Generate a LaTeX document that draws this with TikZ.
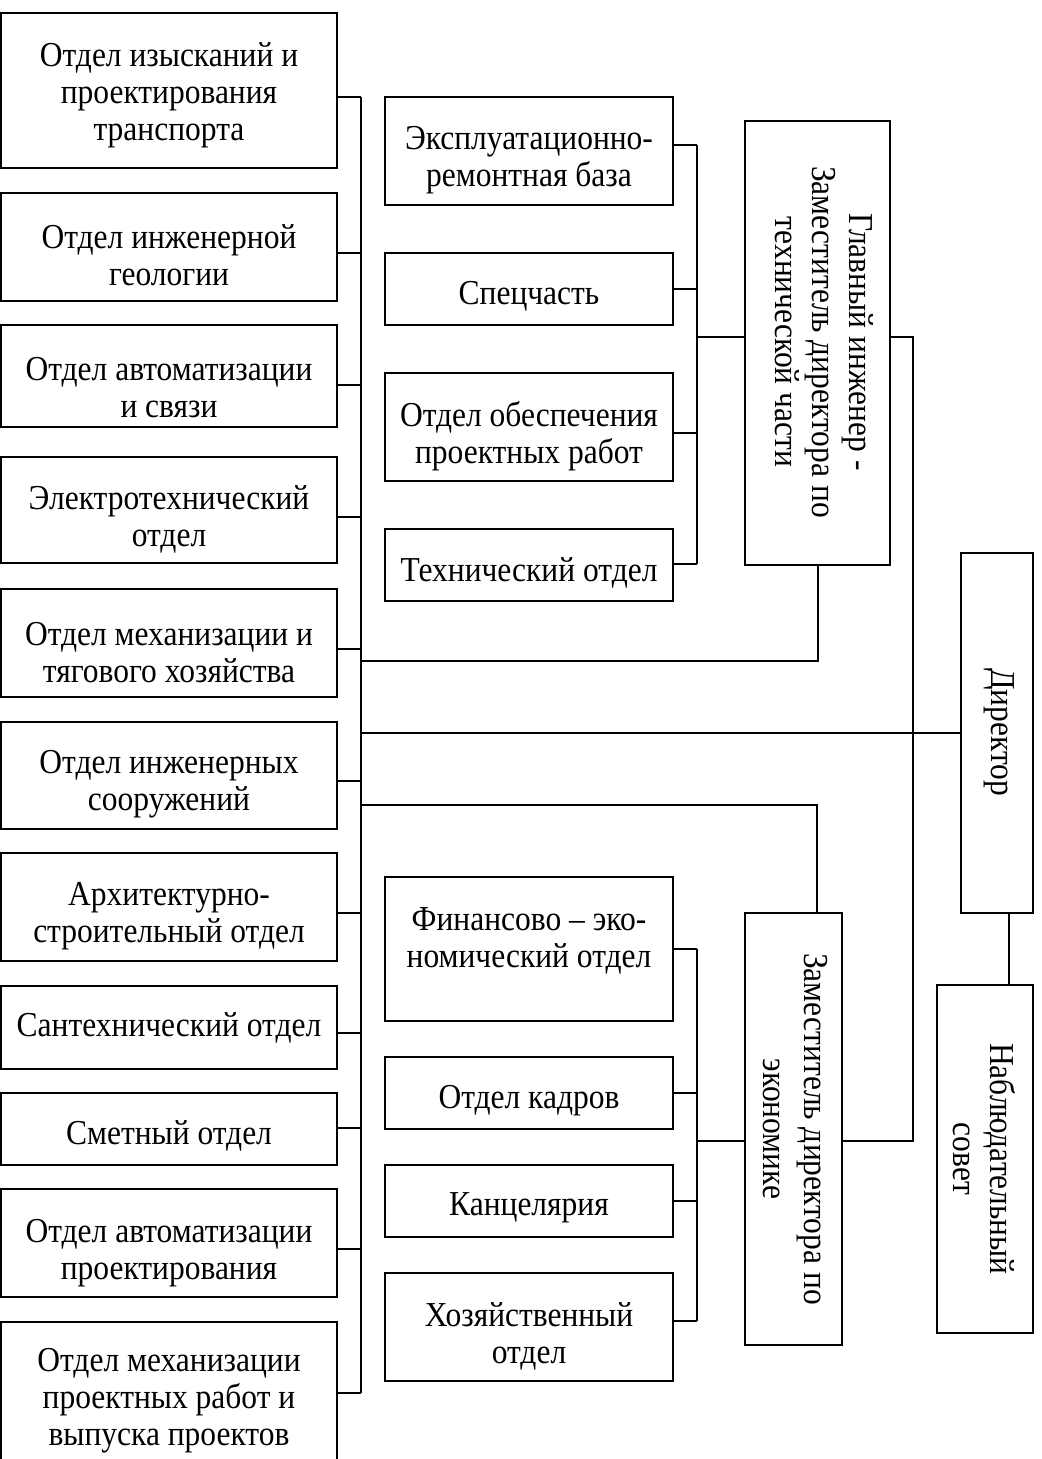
\documentclass[tikz,border=0pt]{standalone}
\usepackage{fontspec}
\setmainfont{Liberation Serif}[FakeStretch=0.9]
\begin{document}
\begin{tikzpicture}[x=0.5pt,y=-0.5pt,
  box/.style={draw, line width=1pt, inner sep=0pt},
  txt/.style={font=\fontsize{17.5}{18.5}\selectfont, align=center, inner sep=0pt},
  htxt/.style={txt, yshift=-1.5pt},
  conn/.style={line width=1pt}]
\useasboundingbox (0,0) rectangle (1042,1459);
% ---------- left column ----------
\node[box, minimum width=168pt, minimum height=77.5pt] (L1) at (169,90.5) {};
\node[box, minimum width=168pt, minimum height=54pt]   (L2) at (169,247) {};
\node[box, minimum width=168pt, minimum height=51pt]   (L3) at (169,376) {};
\node[box, minimum width=168pt, minimum height=53pt]   (L4) at (169,510) {};
\node[box, minimum width=168pt, minimum height=54pt]   (L5) at (169,643) {};
\node[box, minimum width=168pt, minimum height=53.5pt] (L6) at (169,775.5) {};
\node[box, minimum width=168pt, minimum height=54pt]   (L7) at (169,907) {};
\node[box, minimum width=168pt, minimum height=41.5pt] (L8) at (169,1027.5) {};
\node[box, minimum width=168pt, minimum height=36pt]   (L9) at (169,1129) {};
\node[box, minimum width=168pt, minimum height=54pt]   (L10) at (169,1243) {};
\node[box, minimum width=168pt, minimum height=77.5pt] (L11) at (169,1399.5) {};
\node[htxt] (L1t) at (169,92) {Отдел изысканий и\\проектирования\\транспорта};
\node[htxt] (L2t) at (169,252.5) {Отдел инженерной\\геологии};
\node[htxt] (L3t) at (169,385) {Отдел автоматизации\\и связи};
\node[htxt] (L4t) at (169,516) {Электротехнический\\отдел};
\node[htxt] (L5t) at (169,649.5) {Отдел механизации и\\тягового хозяйства};
\node[htxt] (L6t) at (169,781) {Отдел инженерных\\сооружений};
\node[htxt] (L7t) at (169,913) {Архитектурно-\\строительный отдел};
\node[htxt] (L8t) at (169,1025) {Сантехнический отдел};
\node[htxt] (L9t) at (169,1133) {Сметный отдел};
\node[htxt] (L10t) at (169,1250) {Отдел автоматизации\\проектирования};
\node[htxt] (L11t) at (169,1398) {Отдел механизации\\проектных работ и\\выпуска проектов};
% ---------- middle top ----------
\node[box, minimum width=144pt, minimum height=54pt] (M1) at (529,151) {};
\node[box, minimum width=144pt, minimum height=36pt] (M2) at (529,289) {};
\node[box, minimum width=144pt, minimum height=54pt] (M3) at (529,427) {};
\node[box, minimum width=144pt, minimum height=36pt] (M4) at (529,565) {};
\node[htxt] (M1t) at (529,157.5) {Эксплуатационно-\\ремонтная база};
\node[htxt] (M2t) at (529,293) {Спецчасть};
\node[htxt] (M3t) at (529,433.5) {Отдел обеспечения\\проектных работ};
\node[htxt] (M4t) at (529,570) {Технический отдел};
% ---------- middle bottom ----------
\node[box, minimum width=144pt, minimum height=72pt] (F1) at (529,949) {};
\node[box, minimum width=144pt, minimum height=36pt] (F2) at (529,1093) {};
\node[box, minimum width=144pt, minimum height=36pt] (F3) at (529,1201) {};
\node[box, minimum width=144pt, minimum height=54pt] (F4) at (529,1327) {};
\node[htxt] (F1t) at (529,937.5) {Финансово – эко-\\номический отдел};
\node[htxt] (F2t) at (529,1098) {Отдел кадров};
\node[htxt] (F3t) at (529,1205) {Канцелярия};
\node[htxt] (F4t) at (529,1333) {Хозяйственный\\отдел};
% ---------- vertical boxes ----------
\node[box, minimum width=72.5pt, minimum height=222pt] (G) at (817.5,343) {};
\node[box, minimum width=36pt, minimum height=180pt] (D) at (997,733) {};
\node[box, minimum width=48pt, minimum height=174pt] (N) at (985,1159) {};
\node[box, minimum width=48.5pt, minimum height=216pt] (Z) at (793.5,1129) {};
\node[txt, rotate=-90] (Gt) at (824,342) {Главный инженер -\\Заместитель директора по\\технической части};
\node[txt, rotate=-90] (Dt) at (999,732) {Директор};
\node[txt, rotate=-90] (Nt) at (984,1159) {Наблюдательный\\совет};
\node[txt, rotate=-90] (Zt) at (795,1129) {Заместитель директора по\\[2pt]экономике};
% ---------- bus coordinates ----------
\coordinate (b1) at (361,97);
\coordinate (b2) at (361,253);
\coordinate (b3) at (361,385);
\coordinate (b4) at (361,517);
\coordinate (b5) at (361,649);
\coordinate (b6) at (361,781);
\coordinate (b7) at (361,913);
\coordinate (b8) at (361,1033);
\coordinate (b9) at (361,1128);
\coordinate (b10) at (361,1249);
\coordinate (b11) at (361,1393);
\coordinate (bg) at (361,661);
\coordinate (bd) at (361,733);
\coordinate (bz) at (361,805);
\coordinate (t1) at (697,145);
\coordinate (t2) at (697,289);
\coordinate (t3) at (697,433);
\coordinate (t4) at (697,564);
\coordinate (tg) at (697,337);
\coordinate (e1) at (697,949);
\coordinate (e2) at (697,1093);
\coordinate (e3) at (697,1201);
\coordinate (e4) at (697,1321);
\coordinate (ez) at (697,1141);
\coordinate (rv) at (913,337);
\coordinate (zr) at (913,1141);
\coordinate (gb) at (818,661);
\coordinate (zt) at (817,805);
\coordinate (dn) at (1009,913);
% ---------- connectors ----------
\begin{scope}[conn]
\draw (b1) -- (b11);
\foreach \i in {1,...,11} {\draw (L\i.east |- b\i) -- (b\i);}
\draw (t1) -- (t4);
\foreach \i in {1,...,4} {\draw (M\i.east |- t\i) -- (t\i);}
\draw (tg) -- (G.west |- tg);
\draw (e1) -- (e4);
\foreach \i in {1,...,4} {\draw (F\i.east |- e\i) -- (e\i);}
\draw (ez) -- (Z.west |- ez);
\draw (G.east |- rv) -- (rv) -- (zr) -- (Z.east |- zr);
\draw (G.south -| gb) -- (gb) -- (bg);
\draw (D.west) -- (bd);
\draw (Z.north -| zt) -- (zt) -- (bz);
\draw (D.south -| dn) -- (N.north -| dn);
\end{scope}
\end{tikzpicture}
\end{document}
